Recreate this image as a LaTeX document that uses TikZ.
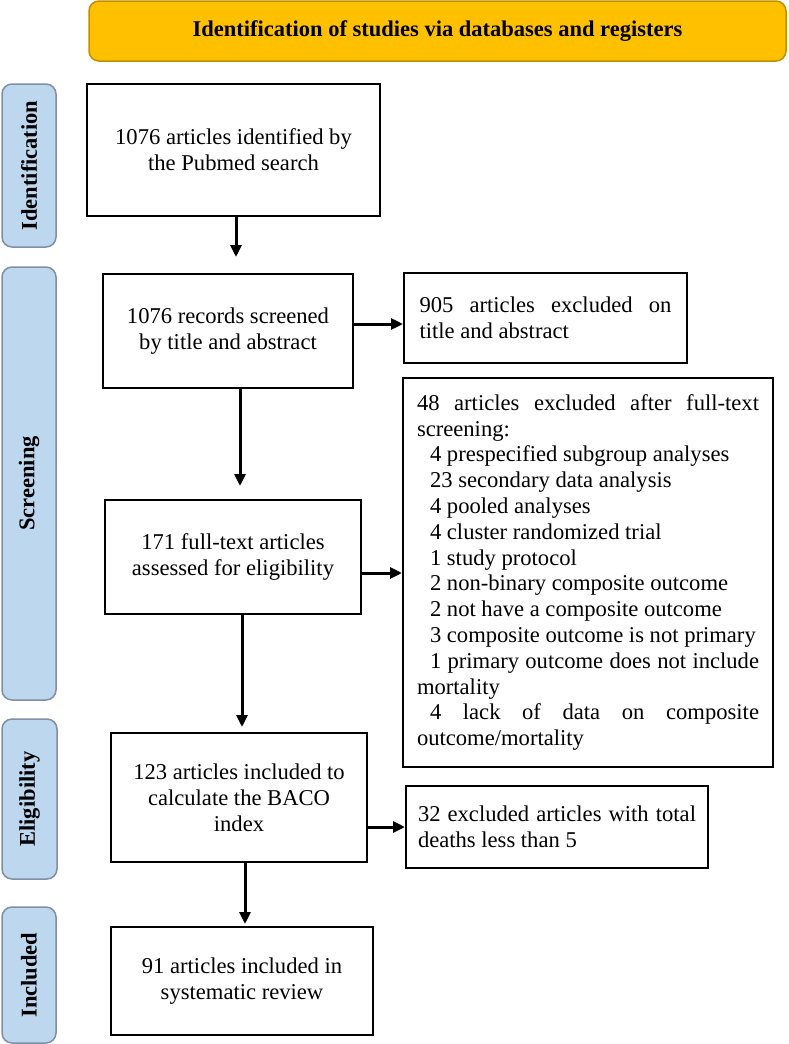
\documentclass[tikz,border=0pt]{standalone}
\usepackage{fontspec}
\setmainfont{Liberation Serif}
\usetikzlibrary{arrows.meta, calc}

\definecolor{bannerfill}{HTML}{FFC000}
\definecolor{bannerline}{HTML}{BF9000}
\definecolor{phasefill}{HTML}{BDD7EE}
\definecolor{phaseline}{HTML}{7F8FA6}

\begin{document}
\begin{tikzpicture}[
  x=1pt, y=-1pt,
  font=\fontsize{22.6}{25.8}\selectfont,
  box/.style={draw=black, line width=2pt, align=center, inner sep=0pt},
  excl/.style={box, align=justify,
    execute at begin node={\hyphenpenalty=10000\exhyphenpenalty=10000\tolerance=9999}},
  phase/.style={draw=phaseline, fill=phasefill, line width=1.5pt, rounded corners=10pt,
    rotate=90, inner sep=0pt, font=\fontsize{22.5}{26}\selectfont\bfseries},
  banner/.style={draw=bannerline, fill=bannerfill, line width=1.5pt, rounded corners=10pt,
    font=\fontsize{22.5}{26}\selectfont\bfseries},
  flow/.style={-{Triangle[length=12pt, width=11pt]}, line width=3pt}
]
\useasboundingbox (0,0) rectangle (788,1044);

% heading band
\node[banner, minimum width=697pt, minimum height=60pt] (head) at (437.5,31)
  {Identification of studies via databases and registers};

% phase labels down the left side
\node[phase, minimum width=163pt, minimum height=54pt] (ident)  at (29,165.5) {Identification};
\node[phase, minimum width=433pt, minimum height=54pt] (screen) at (29,483.5) {Screening};
\node[phase, minimum width=160pt, minimum height=55pt] (elig)   at (29.5,799) {Eligibility};
\node[phase, minimum width=136pt, minimum height=54pt] (incl)   at (29,975)   {Included};

% main column
\node[box, minimum width=293pt, minimum height=132pt] (found)    at (233.5,150) {1076 articles identified by\\the Pubmed search};
\node[box, minimum width=250pt, minimum height=114pt] (screened) at (228,331)   {1076 records screened\\by title and abstract};
\node[box, minimum width=256pt, minimum height=114pt] (fulltext) at (233,557)   {171 full-text articles\\assessed for eligibility};
\node[box, minimum width=256pt, minimum height=129pt] (baco)     at (239,797.5) {123 articles included to\\calculate the BACO\\index};
\node[box, minimum width=262pt, minimum height=108pt] (review)   at (242,981)   {91 articles included in\\systematic review};

% exclusions on the right
\node[excl, text width=252pt, minimum width=283pt, minimum height=90pt] (drop1) at (545.5,318)
  {905 articles excluded on title and abstract};
\node[excl, text width=342pt, minimum width=370pt, minimum height=389pt] (drop2) at (588,572.5)
  {48 articles excluded after full-text screening:\par
   \hspace*{13pt}4 prespecified subgroup analyses\par
   \hspace*{13pt}23 secondary data analysis\par
   \hspace*{13pt}4 pooled analyses\par
   \hspace*{13pt}4 cluster randomized trial\par
   \hspace*{13pt}1 study protocol\par
   \hspace*{13pt}2 non-binary composite outcome\par
   \hspace*{13pt}2 not have a composite outcome\par
   \hspace*{13pt}3 composite outcome is not primary\par
   \hspace*{13pt}1 primary outcome does not include mortality\par
   \hspace*{13pt}4 lack of data on composite outcome/mortality};
\node[excl, text width=278pt, minimum width=302pt, minimum height=82pt] (drop3) at (557,827)
  {32 excluded articles with total deaths less than 5};

% arrows
\draw[flow, shorten >=16pt] ([xshift=2.5pt]found.south) -- ([xshift=2.5pt]found.south |- screened.north);
\draw[flow, shorten >=13pt] ([xshift=12pt]screened.south) -- ([xshift=12pt]screened.south |- fulltext.north);
\draw[flow, shorten >=5pt]  ([xshift=9pt]fulltext.south) -- ([xshift=9pt]fulltext.south |- baco.north);
\draw[flow, shorten >=2pt]  ([xshift=6pt]baco.south) -- ([xshift=6pt]baco.south |- review.north);
\draw[flow] ([yshift=7pt]screened.east) -- ([yshift=7pt]screened.east -| drop1.west);
\draw[flow] ([yshift=-16pt]fulltext.east) -- ([yshift=-16pt]fulltext.east -| drop2.west);
\draw[flow] (baco.east |- drop3.west) -- (drop3.west);

\end{tikzpicture}
\end{document}
